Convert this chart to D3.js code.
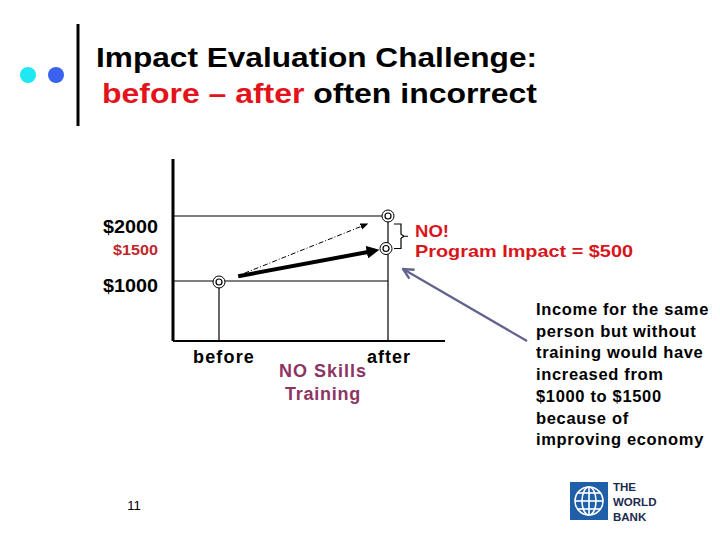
<!DOCTYPE html>
<html><head><meta charset="utf-8">
<script src="https://cdn.jsdelivr.net/npm/d3@7"></script>
<style>body{margin:0;background:#fff}svg{display:block}text{font-family:"Liberation Sans",Arial,sans-serif}</style>
</head><body><svg id="c" width="720" height="540"></svg>
<script>
const categories = ["before", "after"];
const actualIncome = [1000, 2000];
const counterfactualIncome = [1000, 1500];
const tickValues = [2000, 1500, 1000];
const tickLabels = ["$2000", "$1500", "$1000"];
const titleLine1 = "Impact Evaluation Challenge:";
const noteLines = ["Income for the same", "person but without", "training would have", "increased from", "$1000 to $1500", "because of", "improving economy"];

const svg = d3.select("#c");

// header decorations
svg.append("circle").attr("cx", 28).attr("cy", 75).attr("r", 8).attr("fill", "#1fe8f2");
svg.append("circle").attr("cx", 56).attr("cy", 75).attr("r", 8).attr("fill", "#3a62ee");
svg.append("line").attr("x1", 78).attr("x2", 78).attr("y1", 24).attr("y2", 126).attr("stroke", "#000").attr("stroke-width", 3);

function fitText(sel, w) {
  const l = sel.node().getComputedTextLength();
  if (l > 0) sel.attr("textLength", w).attr("lengthAdjust", "spacingAndGlyphs");
}
function spaceTo(sel, w) {
  const l = sel.node().getComputedTextLength();
  const n = sel.text().length;
  if (l > 0 && n > 1) sel.attr("letter-spacing", (w - l) / n);
}
const t1 = svg.append("text").attr("x", 96).attr("y", 67).attr("font-size", 28).attr("font-weight", "bold").text(titleLine1);
fitText(t1, 441);
const t2 = svg.append("text").attr("x", 102).attr("y", 103).attr("font-size", 28).attr("font-weight", "bold");
t2.append("tspan").attr("fill", "#e3131b").text("before – after");
t2.append("tspan").attr("fill", "#000").text(" often incorrect");
fitText(t2, 435);

// scales
const x = d3.scalePoint().domain(categories).range([219, 388]);
const y = d3.scaleLinear().domain([1000, 2000]).range([281, 216]);
const axisLeft = 173, axisTop = 159, axisBottom = 341, axisRight = 445;

// axes
svg.append("line").attr("x1", axisLeft).attr("x2", axisLeft).attr("y1", axisTop).attr("y2", axisBottom).attr("stroke", "#000").attr("stroke-width", 3);
svg.append("line").attr("x1", axisLeft).attr("x2", axisRight).attr("y1", axisBottom).attr("y2", axisBottom).attr("stroke", "#000").attr("stroke-width", 2);

// reference lines
[actualIncome[0], actualIncome[1]].forEach(v => {
  svg.append("line").attr("x1", axisLeft).attr("x2", x("after")).attr("y1", y(v)).attr("y2", y(v)).attr("stroke", "#000").attr("stroke-width", 1.2);
});
categories.forEach((c, i) => {
  svg.append("line").attr("x1", x(c)).attr("x2", x(c)).attr("y1", y(actualIncome[i])).attr("y2", axisBottom).attr("stroke", "#000").attr("stroke-width", 1.2);
});

// tick labels
const labelStyle = [{fs: 18, fill: "#000", base: 17, w: 55}, {fs: 15, fill: "#c0272d", base: 6, w: 45}, {fs: 18, fill: "#000", base: 11, w: 55}];
tickValues.forEach((v, i) => {
  const t = svg.append("text").attr("x", 158).attr("y", y(v) + labelStyle[i].base)
    .attr("text-anchor", "end").attr("font-size", labelStyle[i].fs).attr("font-weight", "bold").attr("fill", labelStyle[i].fill).text(tickLabels[i]);
  fitText(t, labelStyle[i].w);
});

// markers
const defs = svg.append("defs");
defs.append("marker").attr("id", "ahThick").attr("viewBox", "0 0 10 10").attr("refX", 2).attr("refY", 5)
  .attr("markerWidth", 3.2).attr("markerHeight", 3.2).attr("orient", "auto").attr("markerUnits", "strokeWidth")
  .append("path").attr("d", "M0,0 L10,5 L0,10 z").attr("fill", "#000");
defs.append("marker").attr("id", "ahThin").attr("viewBox", "0 0 10 10").attr("refX", 8).attr("refY", 5)
  .attr("markerWidth", 8).attr("markerHeight", 8).attr("orient", "auto").attr("markerUnits", "userSpaceOnUse")
  .append("path").attr("d", "M0,1 L10,5 L0,9 z").attr("fill", "#000");
defs.append("marker").attr("id", "ahGray").attr("viewBox", "0 0 10 10").attr("refX", 9).attr("refY", 5)
  .attr("markerWidth", 13).attr("markerHeight", 13).attr("orient", "auto").attr("markerUnits", "userSpaceOnUse")
  .append("path").attr("d", "M1,1 L9,5 L1,9").attr("fill", "none").attr("stroke", "#62628e").attr("stroke-width", 1.8).attr("stroke-linejoin", "miter");

const p0 = [x("before"), y(actualIncome[0])];
const pA = [x("after"), y(actualIncome[1])];
const pC = [x("after") - 2, y(counterfactualIncome[1])];
const lerp = (a, b, t) => [a[0] + (b[0] - a[0]) * t, a[1] + (b[1] - a[1]) * t];

// dotted arrow (before -> after actual)
const d1 = lerp(p0, pA, 0.15), d2 = lerp(p0, pA, 0.875);
svg.append("line").attr("x1", d1[0]).attr("y1", d1[1] + 2).attr("x2", d2[0]).attr("y2", d2[1])
  .attr("stroke", "#000").attr("stroke-width", 1).attr("stroke-dasharray", "5,2,1,2").attr("marker-end", "url(#ahThin)");
// thick arrow (before -> counterfactual)
const c1 = lerp(p0, pC, 0.115), c2 = lerp(p0, pC, 0.9);
svg.append("line").attr("x1", c1[0]).attr("y1", c1[1] - 1).attr("x2", c2[0]).attr("y2", c2[1])
  .attr("stroke", "#000").attr("stroke-width", 4).attr("marker-end", "url(#ahThick)");

// point markers
[[p0[0], p0[1] + 1], pA, pC].forEach(p => {
  svg.append("circle").attr("cx", p[0]).attr("cy", p[1]).attr("r", 6).attr("fill", "#fff").attr("stroke", "#000").attr("stroke-width", 1);
  svg.append("circle").attr("cx", p[0]).attr("cy", p[1]).attr("r", 3).attr("fill", "none").attr("stroke", "#000").attr("stroke-width", 1.2);
});

// bracket
const bx = 394, by1 = pA[1] + 8, by2 = pC[1], bm = (by1 + by2) / 2;
svg.append("path").attr("d", `M${bx},${by1} L${bx + 7},${by1} L${bx + 7},${bm - 2} L${bx + 10},${bm} L${bx + 14},${bm} M${bx + 10},${bm} L${bx + 7},${bm + 2} L${bx + 7},${by2} L${bx},${by2}`)
  .attr("fill", "none").attr("stroke", "#000").attr("stroke-width", 1.2);

// red impact text
const no = svg.append("text").attr("x", 415).attr("y", 237).attr("font-size", 17).attr("font-weight", "bold").attr("fill", "#d9151c").text("NO!");
fitText(no, 34);
const pi = svg.append("text").attr("x", 415).attr("y", 257).attr("font-size", 17).attr("font-weight", "bold").attr("fill", "#d9151c").text("Program Impact = $500");
fitText(pi, 218);

// gray arrow
svg.append("line").attr("x1", 527).attr("y1", 341).attr("x2", 403).attr("y2", 269)
  .attr("stroke", "#62628e").attr("stroke-width", 2.2).attr("marker-end", "url(#ahGray)");

// category labels
const cb = svg.append("text").attr("x", 193).attr("y", 363).attr("font-size", 18).attr("font-weight", "bold").text(categories[0]);
spaceTo(cb, 62);
const ca = svg.append("text").attr("x", 367).attr("y", 363).attr("font-size", 18).attr("font-weight", "bold").text(categories[1]);
spaceTo(ca, 44);
const ns = svg.append("text").attr("x", 279).attr("y", 377).attr("font-size", 18).attr("font-weight", "bold").attr("fill", "#8c3462").text("NO Skills");
spaceTo(ns, 88);
const tr = svg.append("text").attr("x", 285).attr("y", 400).attr("font-size", 18).attr("font-weight", "bold").attr("fill", "#8c3462").text("Training");
spaceTo(tr, 76);

// note block
let ls = null;
noteLines.forEach((s, i) => {
  const t = svg.append("text").attr("x", 536).attr("y", 315 + i * 21.7).attr("font-size", 16.5).attr("font-weight", "bold").attr("fill", "#000").text(s);
  if (ls === null) { const l = t.node().getComputedTextLength(); ls = l > 0 ? (173 - l) / s.length : 0.5; }
  t.attr("letter-spacing", ls);
});

// page number
svg.append("text").attr("x", 134).attr("y", 510).attr("text-anchor", "middle").attr("font-size", 13).text("11");

// World Bank logo
const lg = svg.append("g").attr("transform", "translate(570,482)");
lg.append("rect").attr("width", 38).attr("height", 38).attr("fill", "#1f5ea8");
const gc = lg.append("g").attr("transform", "translate(19,19)").attr("fill", "none").attr("stroke", "#fff").attr("stroke-width", 1.6);
gc.append("circle").attr("r", 14);
gc.append("ellipse").attr("rx", 7).attr("ry", 14);
gc.append("line").attr("x1", 0).attr("x2", 0).attr("y1", -14).attr("y2", 14);
[-8, 0, 8].forEach(v => gc.append("line").attr("x1", -Math.sqrt(196 - v * v)).attr("x2", Math.sqrt(196 - v * v)).attr("y1", v).attr("y2", v));
["THE", "WORLD", "BANK"].forEach((s, i) => {
  svg.append("text").attr("x", 613).attr("y", 491 + i * 15).attr("font-size", 11.5).attr("font-weight", "bold").attr("fill", "#1b2a4e").text(s);
});
</script></body></html>
